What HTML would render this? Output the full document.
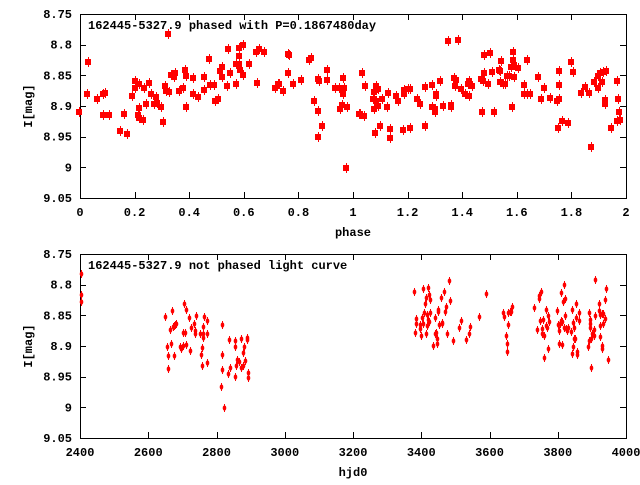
<!DOCTYPE html>
<html><head><style>body{margin:0;background:#fff}svg text{font-family:"Liberation Mono",monospace;font-weight:bold;font-size:12px;fill:#000}</style></head>
<body>
<svg id="s" width="640" height="480" xmlns="http://www.w3.org/2000/svg">
<rect width="640" height="480" fill="#fff"/>
<g id="ax" stroke="#000" stroke-width="1" fill="none"></g>
<g id="txt"></g>
<g id="pts" fill="#f00" stroke="#f00"></g>
</svg>
<script>
(function(){
const NS="http://www.w3.org/2000/svg";
const ax=document.getElementById('ax'),tx=document.getElementById('txt'),pg=document.getElementById('pts');
function el(p,t,a,s){const e=document.createElementNS(NS,t);for(const k in a)e.setAttribute(k,a[k]);if(s!==undefined)e.textContent=s;p.appendChild(e);return e;}
function panel(y0,y1,xl,title,xlab){
 el(ax,'rect',{x:80.5,y:y0+.5,width:546,height:y1-y0});
 const yl=['8.75','8.8','8.85','8.9','8.95','9','9.05'];
 yl.forEach((l,i)=>{const y=y0+i*(y1-y0)/6;const yy=Math.round(y)+.5;
  el(ax,'line',{x1:80,y1:yy,x2:86,y2:yy});el(ax,'line',{x1:620,y1:yy,x2:626,y2:yy});
  el(tx,'text',{x:72,y:y+4,'text-anchor':'end'},l);});
 xl.forEach((l,i)=>{const x=80+i*546/(xl.length-1);const xx=Math.round(x)+.5;
  el(ax,'line',{x1:xx,y1:y0,x2:xx,y2:y0+6});el(ax,'line',{x1:xx,y1:y1-6,x2:xx,y2:y1});
  el(tx,'text',{x:x,y:y1+18,'text-anchor':'middle'},l);});
 el(tx,'text',{x:88,y:y0+15},title);
 el(tx,'text',{x:353,y:y1+38,'text-anchor':'middle'},xlab);
 const cy=(y0+y1)/2;el(tx,'text',{x:32,y:cy,'text-anchor':'middle',transform:`rotate(-90 32 ${cy})`},'I[mag]');
}
panel(14,198,['0','0.2','0.4','0.6','0.8','1','1.2','1.4','1.6','1.8','2'],'162445-5327.9 phased with P=0.1867480day','phase');
panel(254,438,['2400','2600','2800','3000','3200','3400','3600','3800','4000'],'162445-5327.9 not phased light curve','hjd0');
const tp=[[79,112],[88,62],[87,94],[97,99],[103,94],[105,93],[103,115],[109,115],[120,131],[127,134],[124,114],[132,96],[135,81],[135,88],[139,84],[138,115],[139,108],[139,118],[143,120],[144,88],[146,104],[149,83],[151,94],[154,104],[156,97],[157,103],[161,107],[163,122],[165,86],[166,91],[169,92],[168,34],[171,75],[174,77],[175,73],[179,91],[183,88],[185,70],[186,76],[186,107],[193,78],[193,94],[198,97],[204,90],[204,77],[209,59],[210,85],[214,85],[215,101],[218,99],[220,71],[222,67],[222,77],[227,86],[228,49],[230,73],[236,64],[236,84],[239,48],[239,56],[239,64],[240,70],[243,45],[243,75],[249,64],[256,52],[259,49],[264,52],[257,83],[275,88],[278,84],[279,84],[283,91],[288,54],[289,55],[288,73],[293,84],[301,80],[309,60],[311,58],[314,101],[318,79],[319,81],[318,111],[318,137],[322,126],[327,70],[327,80],[335,88],[339,88],[343,78],[343,94],[342,105],[340,109],[344,88],[347,107],[346,168],[359,114],
[360,114],[364,116],[362,73],[365,86],[373,99],[374,92],[376,86],[376,90],[378,89],[376,101],[374,109],[378,106],[375,133],[380,126],[382,99],[388,93],[387,107],[390,129],[390,138],[396,96],[398,101],[403,130],[404,90],[404,94],[408,89],[410,89],[410,128],[417,99],[420,104],[425,87],[425,126],[432,85],[432,107],[435,109],[435,112],[436,96],[436,94],[440,81],[443,106],[451,105],[451,107],[448,41],[458,40],[454,78],[456,80],[455,86],[461,89],[465,94],[469,96],[469,81],[468,84],[472,86],[481,79],[483,81],[488,84],[482,112],[484,55],[484,73],[490,53],[492,72],[494,112],[499,70],[500,71],[500,82],[501,61],[503,84],[505,84],[507,76],[509,76],[511,67],[513,52],[513,60],[514,65],[514,77],[512,107],[518,68],[524,85],[524,94],[527,60],[527,94],[530,94],[538,77],[541,99],[544,88],[550,98],[557,101],[558,128],[559,99],[559,71],[559,85],[562,121],[568,123],[571,62],[573,72],[581,93],[585,87],[589,93],[591,147],[594,82],[598,88],[598,76],[600,73],[602,82],[603,72],[606,71],[605,100],[605,104],[611,128],[617,81],[618,99],[617,121],[619,112],[620,120]];
tp.forEach(([x,y])=>{el(pg,'rect',{x:x-3,y:y-3,width:6,height:6,stroke:'none'});el(pg,'line',{x1:x+.5,y1:y-5,x2:x+.5,y2:y+5,'stroke-width':1});});
const bt=[[81,274],[81,295],[81,302],[165,317],[167,347],[168,356],[168,369],[170,330],[171,344],[172,311],[173,327],[174,326],[175,325],[176,324],[174,356],[180,347],[181,349],[183,346],[184,304],[183,333],[185,333],[186,310],[186,345],[189,318],[190,351],[191,328],[194,324],[195,331],[195,334],[196,316],[200,334],[201,355],[202,348],[202,366],[203,327],[203,334],[203,338],[204,317],[207,321],[207,334],[207,363],[222,325],[221,387],[222,355],[222,370],[224,408],[228,374],[229,340],[230,368],[235,341],[235,347],[235,377],[236,366],[237,360],[239,362],[241,339],[241,368],[243,366],[243,353],[244,347],[245,361],[247,340],[247,338],[248,373],[248,378],
[414,292],[416,319],[416,324],[415,333],[420,325],[420,329],[421,336],[422,318],[423,289],[423,324],[424,313],[425,304],[426,298],[426,334],[427,315],[427,326],[428,288],[428,320],[429,295],[429,322],[430,300],[430,313],[433,346],[435,318],[435,334],[436,333],[437,339],[437,344],[438,310],[438,312],[439,325],[441,298],[442,323],[442,324],[444,292],[445,312],[446,307],[447,334],[449,281],[450,301],[453,341],[459,328],[461,321],[466,340],[469,334],[470,327],[479,317],[486,294],[503,313],[504,317],[506,336],[507,344],[507,352],[508,325],[508,313],[510,312],[511,312],[512,307],[534,308],[537,330],[539,296],[539,299],[540,321],[541,292],[542,329],[542,334],[543,320],[544,336],[544,358],[546,310],[546,326],[547,328],[548,316],[548,349],[549,322],[557,311],[558,325],[559,331],[559,344],[560,324],[561,293],[561,321],[562,322],[562,345],[563,302],[564,285],[564,328],[565,299],[565,316],[566,329],[567,331],[568,328],[571,332],[572,310],[572,354],[573,323],[573,347],[574,328],[574,339],[575,339],[576,304],[576,318],[577,352],[577,355],[579,313],[579,321],[588,347],[589,313],[589,341],[590,320],[590,324],[590,328],[591,339],[591,368],[592,334],[594,330],[594,336],[595,280],[595,316],[599,304],[599,311],[600,337],[600,326],[600,315],[602,314],[602,346],[602,349],[603,314],[603,324],[605,319],[605,300],[606,289],[608,360]];
bt.forEach(([x,y])=>{el(pg,'ellipse',{cx:x+.5,cy:y,rx:1.8,ry:2.6,stroke:'none'});el(pg,'line',{x1:x+.5,y1:y-4,x2:x+.5,y2:y+4,'stroke-width':1});});
})();
</script>
</body></html>
